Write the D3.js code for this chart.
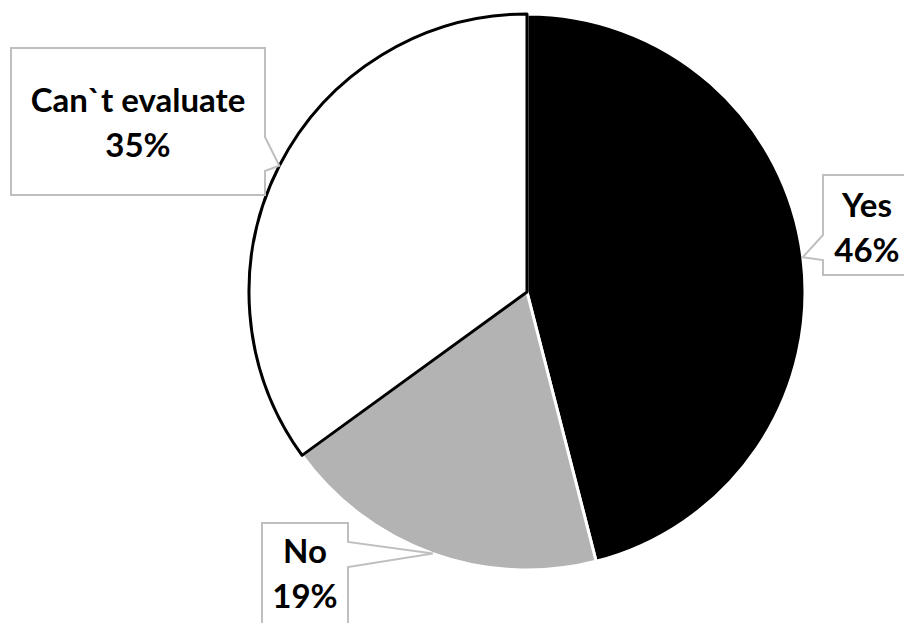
<!DOCTYPE html>
<html>
<head>
<meta charset="utf-8">
<script src="https://cdn.jsdelivr.net/npm/d3@7"></script>
<style>
  body { margin: 0; background: #fff; }
</style>
</head>
<body>
<script>
var w = 904;
var h = 623;

var labels = ["Yes", "No", "Can`t evaluate"];
var values = [46, 19, 35];
var fills = ["#000000", "#b3b3b3", "#ffffff"];
var strokes = ["#ffffff", "#ffffff", "#000000"];

// callout boxes: [x0, y0, x1, y1, side of pointer, pointer base top, pointer base bottom, first baseline]
var boxes = [
  [823, 175, 911, 275, "left", 235, 260, 217],
  [262, 523, 348, 640, "right", 542, 567, 563],
  [11, 48, 265, 195, "right", 137, 171, 112]
];

var cx = 527;
var cy = 292;
var r = 278;

var svg = d3.select("body").append("svg").attr("width", w).attr("height", h);

var pie = d3.pie().sort(null).value(function (d) { return d; });
var arcs = pie(values);
var arc = d3.arc().innerRadius(0).outerRadius(r);
var edge = d3.arc().innerRadius(r).outerRadius(r);

var g = svg.append("g").attr("transform", "translate(" + cx + "," + cy + ")");

g.selectAll("path")
  .data(arcs)
  .enter()
  .append("path")
  .attr("d", arc)
  .attr("fill", function (d, i) { return fills[i]; })
  .attr("stroke", function (d, i) { return strokes[i]; })
  .attr("stroke-width", 3)
  .attr("stroke-linejoin", "round");

function calloutPath(b, tip) {
  var x0 = b[0], y0 = b[1], x1 = b[2], y1 = b[3];
  if (b[4] == "right") {
    return "M" + x0 + "," + y0 + "H" + x1 + "V" + b[5] +
      "L" + tip[0] + "," + tip[1] + "L" + x1 + "," + b[6] +
      "V" + y1 + "H" + x0 + "Z";
  }
  return "M" + x0 + "," + y0 + "H" + x1 + "V" + y1 + "H" + x0 +
    "V" + b[6] + "L" + tip[0] + "," + tip[1] + "L" + x0 + "," + b[5] + "Z";
}

var labelG = svg.selectAll("g.lbl")
  .data(arcs)
  .enter()
  .append("g")
  .attr("class", "lbl");

labelG.append("path")
  .attr("d", function (d, i) {
    var c = edge.centroid(d);
    return calloutPath(boxes[i], [c[0] + cx, c[1] + cy]);
  })
  .attr("fill", "#ffffff")
  .attr("stroke", "#bfbfbf")
  .attr("stroke-width", 2);

labelG.each(function (d, i) {
  var b = boxes[i];
  var t = d3.select(this).append("text")
    .attr("text-anchor", "middle")
    .attr("font-family", "Lato, 'Open Sans', sans-serif")
    .attr("font-weight", "bold")
    .attr("font-size", 33)
    .attr("fill", "#000");
  var mx = (b[0] + b[2]) / 2;
  t.append("tspan").attr("x", mx).attr("y", b[7]).text(labels[i]);
  t.append("tspan").attr("x", mx).attr("y", b[7] + 45).text(values[i] + "%");
});
</script>
</body>
</html>
